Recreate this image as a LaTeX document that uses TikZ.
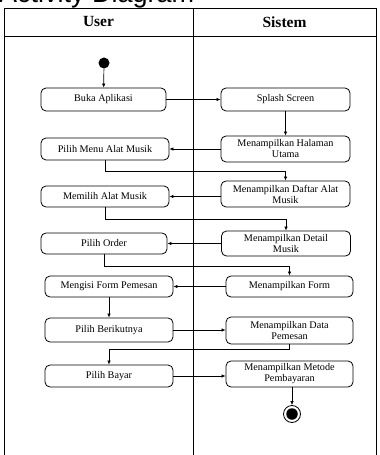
\documentclass[tikz,border=0pt]{standalone}
\usepackage{fontspec}
\setmainfont{Liberation Serif}
\newfontfamily\titlefont{Liberation Sans}
\usetikzlibrary{arrows.meta,calc}
\begin{document}
\begin{tikzpicture}[x=1bp,y=-1bp,
  act/.style={draw,line width=0.8bp,rounded corners=5bp,align=center,inner sep=1bp,
    font=\fontsize{10.2bp}{11bp}\selectfont},
  arr/.style={draw,line width=0.7bp,-{Latex[length=4bp,width=3.6bp]}},
  frame/.style={draw,line width=0.8bp},
  hdr/.style={font=\bfseries\fontsize{15.5bp}{17bp}\selectfont}]
\useasboundingbox (0,0) rectangle (379,455);
% swimlanes
\draw[frame] (4,455) -- (4,8) -- (376,8) -- (376,455);
\draw[frame] (4,36) -- (376,36);
\draw[frame] (193,8) -- (193,455);
\node[hdr] (user) at (98.5,22) {User};
\node[hdr] (sistem) at (284.5,22) {Sistem};
% start
\node[circle,fill=black,minimum size=11bp,inner sep=0] (start) at (104,63) {};
% activities
\node[act,minimum width=125bp,minimum height=23bp] (buka) at (103.5,99.5) {Buka Aplikasi};
\node[act,minimum width=129bp,minimum height=23bp] (splash) at (285.5,99.5) {Splash Screen};
\node[act,minimum width=128bp,minimum height=22bp] (pmam) at (105,149) {Pilih Menu Alat Musik};
\node[act,minimum width=129bp,minimum height=26bp] (mhu) at (285.5,149) {Menampilkan Halaman\\Utama};
\node[act,minimum width=128bp,minimum height=21bp] (mam) at (105,196.5) {Memilih Alat Musik};
\node[act,minimum width=129bp,minimum height=26bp] (mdam) at (285.5,194) {Menampilkan Daftar Alat\\Musik};
\node[act,minimum width=126bp,minimum height=21bp] (po) at (104,243.5) {Pilih Order};
\node[act,minimum width=129bp,minimum height=25bp] (mdm) at (286,243.5) {Menampilkan Detail\\Musik};
\node[act,minimum width=128bp,minimum height=21bp] (mfp) at (109,286.5) {Mengisi Form Pemesan};
\node[act,minimum width=127bp,minimum height=21bp] (mf) at (289.5,286.5) {Menampilkan Form};
\node[act,minimum width=128bp,minimum height=24bp] (pb) at (109,330) {Pilih Berikutnya};
\node[act,minimum width=127bp,minimum height=27bp] (mdp) at (289.5,330.5) {Menampilkan Data\\Pemesan};
\node[act,minimum width=128bp,minimum height=22bp] (pby) at (109,376) {Pilih Bayar};
\node[act,minimum width=127bp,minimum height=26bp] (mmp) at (289.5,374) {Menampilkan Metode\\Pembayaran};
% end
\node[circle,draw,line width=0.8bp,minimum size=17bp,inner sep=0] (end) at (292,414) {};
\node[circle,fill=black,minimum size=11.5bp,inner sep=0] (endin) at (end.center) {};
% flows
\draw[arr] (start) -- (buka);
\draw[arr] (buka) -- (splash);
\draw[arr] (splash) -- (mhu);
\draw[arr] (mhu) -- (pmam);
\draw[arr] (pmam.south) -- ++(0,11) -| (mdam.north);
\draw[arr] (mdam.west |- mam.east) -- (mam.east);
\draw[arr] (mam.south) -- ++(0,11.5) -| (mdm.north);
\draw[arr] (mdm.west |- po.east) -- (po.east);
\draw[arr] (po.south) -- ++(0,12) -| (mf.north);
\draw[arr] (mf) -- (mfp);
\draw[arr] (mfp) -- (pb);
\draw[arr] (pb.east) -- (mdp.west |- pb.east);
\draw[arr] (mdp.south) -- ++(0,5) -| (pby.north);
\draw[arr] (pby.east) -- (mmp.west |- pby.east);
\draw[arr] (mmp.south -| end.north) -- (end.north);
% title (cropped by the top edge, as in the reference)
\begin{scope}
\clip (0,0) rectangle (379,455);
\node[anchor=base west,inner sep=0,font=\titlefont\fontsize{27bp}{30bp}\selectfont] (title) at (-1,2.5) {Activity Diagram};
\end{scope}
\end{tikzpicture}
\end{document}
